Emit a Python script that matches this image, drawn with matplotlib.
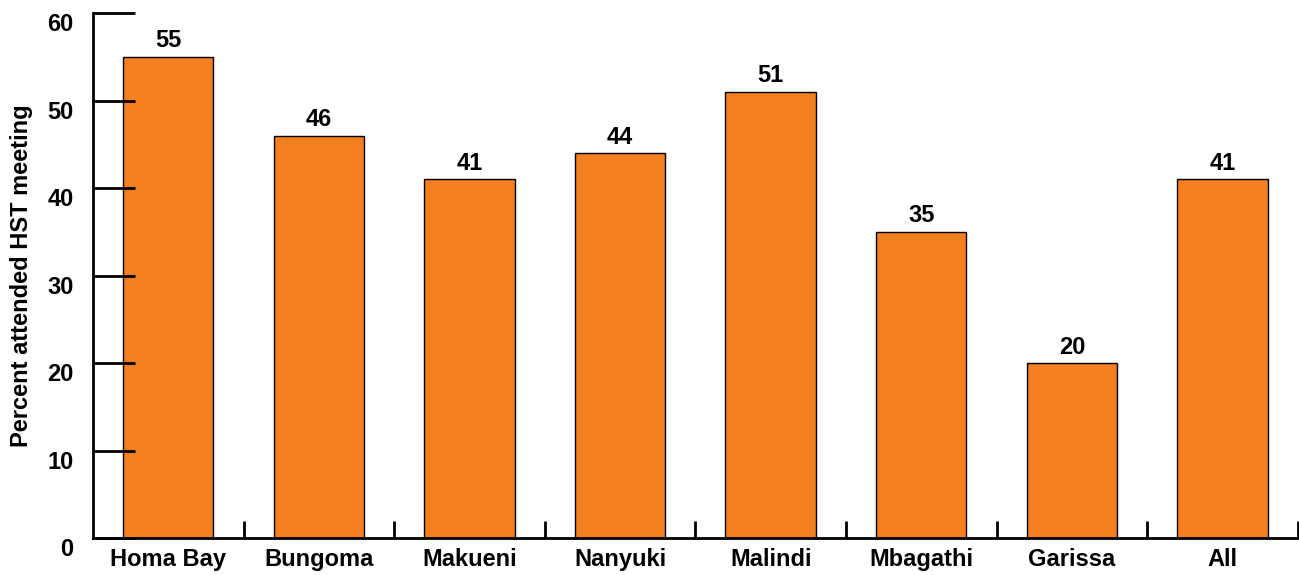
import matplotlib
matplotlib.use('Agg')
import numpy as np
from matplotlib import pyplot as plt
from matplotlib import transforms

sites = ['Homa Bay', 'Bungoma', 'Makueni', 'Nanyuki', 'Malindi', 'Mbagathi', 'Garissa', 'All']
percent_attended = [55, 46, 41, 44, 51, 35, 20, 41]
y_ticks = [0, 10, 20, 30, 40, 50, 60]

plt.rcParams['font.family'] = ['Liberation Sans', 'DejaVu Sans']
plt.rcParams['font.weight'] = 'bold'

fig = plt.figure(figsize=(12.99, 5.75), dpi=100)
ax = fig.add_axes([0.0716, 0.0643, 0.9274, 0.9131])

x = np.arange(len(sites))
bars = ax.bar(x, percent_attended, width=0.6, color='#F47F20', edgecolor='black', linewidth=1.0)

for xi, val in zip(x, percent_attended):
    ax.text(xi, val + 0.5, str(val), ha='center', va='bottom', fontsize=17, fontweight='bold')

ax.set_xlim(-0.5, len(sites) - 0.5)
ax.set_ylim(0, 60)

ax.set_xticks(x)
ax.set_xticklabels(sites, fontsize=17, fontweight='bold')
ax.set_xticks(np.arange(0.5, len(sites), 1.0), minor=True)
ax.tick_params(axis='x', which='major', length=0, pad=7)
ax.tick_params(axis='x', which='minor', direction='in', length=12, width=2)

ax.set_yticks(y_ticks)
ax.set_yticklabels([str(t) for t in y_ticks], fontsize=17, fontweight='bold')
ax.tick_params(axis='y', direction='in', length=30, width=2, pad=14)

# labels in the reference sit a little below their ticks
shift = transforms.ScaledTranslation(0, -9 / 100, fig.dpi_scale_trans)
for label in ax.get_yticklabels():
    label.set_transform(label.get_transform() + shift)

ax.set_ylabel('Percent attended HST meeting', fontsize=17, fontweight='bold', labelpad=10)

for side in ['top', 'right']:
    ax.spines[side].set_visible(False)
for side in ['left', 'bottom']:
    ax.spines[side].set_linewidth(2)

fig.savefig('out.png', dpi=100)
